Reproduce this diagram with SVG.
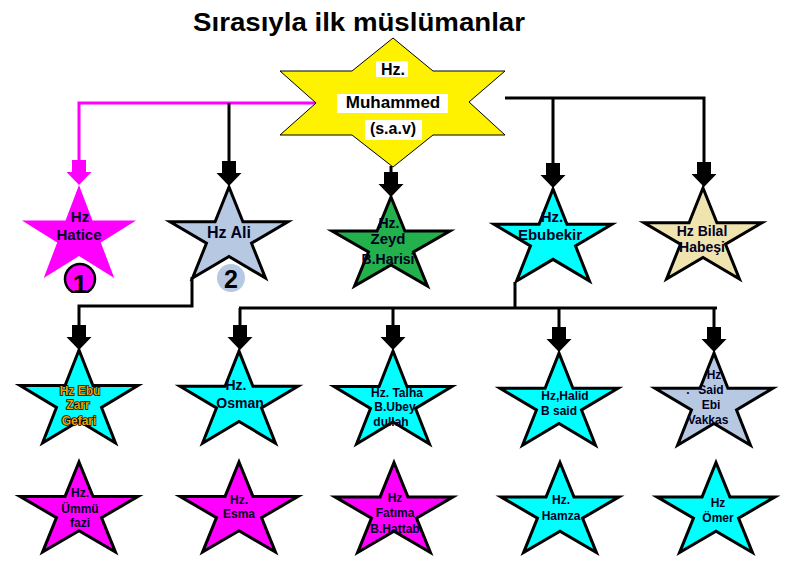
<svg xmlns="http://www.w3.org/2000/svg" xmlns:xlink="http://www.w3.org/1999/xlink" width="808" height="572" viewBox="0 0 808 572">
<style>
text{font-family:"Liberation Sans",Arial,sans-serif;font-weight:bold;text-anchor:middle;fill:#000022}
.s{stroke:#000;stroke-width:3;stroke-linejoin:miter}
.pk{fill:#FF00FF}
.cy{fill:#00FFFF}
.bl{fill:#B7C9E2}
.gr{fill:#22B14C}
.tn{fill:#EFE4B0}
.ln{fill:none;stroke:#000;stroke-width:3}
.lp{fill:none;stroke:#FF00FF;stroke-width:3}
.t12{font-size:12px}
.t14{font-size:14px}
.t15{font-size:15px}
.gold{fill:#F0A000;stroke:#000;stroke-width:1.5px;paint-order:stroke;font-size:12px}
</style>
<defs>
<polygon id="star" vector-effect="non-scaling-stroke" points="0,-1 0.2245,-0.309 0.9511,-0.309 0.3633,0.118 0.5878,0.809 0,0.382 -0.5878,0.809 -0.3633,0.118 -0.9511,-0.309 -0.2245,-0.309"/>
<path id="arr" d="M-7,-25H7V-13H12.5L0,0L-12.5,-13H-7Z"/>
<clipPath id="cut1"><rect x="50" y="250" width="60" height="43"/></clipPath>
</defs>
<rect width="808" height="572" fill="#fff"/>
<text x="359" y="31" style="font-size:25px;fill:#000" textLength="332" lengthAdjust="spacingAndGlyphs">Sırasıyla ilk müslümanlar</text>

<g id="connectors">
<path class="lp" d="M316,103H79V162"/>
<use href="#arr" transform="translate(79,185)" fill="#FF00FF"/>
<path class="ln" d="M229,103V163"/>
<use href="#arr" transform="translate(229,186)"/>
<path class="ln" d="M391,166V176"/>
<use href="#arr" transform="translate(391,197)"/>
<path class="ln" d="M505,98H704V166M553,98V166"/>
<use href="#arr" transform="translate(553,188)"/>
<use href="#arr" transform="translate(704,187)"/>
<path class="ln" d="M192,277V306H79V328"/>
<use href="#arr" transform="translate(79,350)"/>
<path class="ln" d="M515,282V308M239,308H717M240,308V328M393,308V328M559,308V330M714,308V330"/>
<use href="#arr" transform="translate(240,350)"/>
<use href="#arr" transform="translate(393,350)"/>
<use href="#arr" transform="translate(559,352)"/>
<use href="#arr" transform="translate(714,352)"/>
</g>

<g id="muhammed">
<polygon points="393,38 433,71 505,71 469,102 505,135 433,135 393,167 352,135 280,135 316,103 280,71 352,71" fill="#FFF200" stroke="#000" stroke-width="1"/>
<rect x="376" y="61" width="32" height="16" fill="#fff"/>
<rect x="337" y="94" width="111" height="19" fill="#fff"/>
<rect x="365" y="120" width="57" height="20" fill="#fff"/>
<text x="393" y="75" style="font-size:16px;fill:#000">Hz.</text>
<text x="393" y="108" style="font-size:17px;fill:#000">Muhammed</text>
<text x="393" y="134" style="font-size:16px;fill:#000">(s.a.v)</text>
</g>

<g id="hatice">
<use href="#star" class="pk" transform="translate(79,236.4) scale(60,51.4)"/>
<text class="t15" x="80" y="222">Hz</text>
<text class="t15" x="79" y="240">Hatice</text>
<g clip-path="url(#cut1)">
<circle cx="80" cy="279" r="15" fill="#FF00FF" stroke="#000" stroke-width="2.5"/>
<text x="80" y="293" style="font-size:26px;fill:#000">1</text>
</g>
</g>

<g id="ali">
<use href="#star" class="s bl" transform="translate(229,237.3) scale(62,50.3)"/>
<text x="229" y="238" style="font-size:16px">Hz Ali</text>
<circle cx="231" cy="278" r="14" fill="#B7C9E2"/>
<text x="231" y="288" style="font-size:25px;fill:#000">2</text>
</g>

<g id="zeyd">
<use href="#star" class="s gr" transform="translate(391,246.2) scale(62,49.2)"/>
<text class="t14" x="389" y="228">Hz.</text>
<text class="t15" x="388" y="244">Zeyd</text>
<text class="t14" x="388" y="264">B.Harisi</text>
</g>

<g id="ebubekir">
<use href="#star" class="s cy" transform="translate(553,239.9) scale(62,50.9)"/>
<text class="t15" x="552" y="222">Hz.</text>
<text class="t15" x="550" y="240">Ebubekir</text>
</g>

<g id="bilal">
<use href="#star" class="s tn" transform="translate(703,238.3) scale(62,50.3)"/>
<text class="t14" x="702" y="236">Hz Bilal</text>
<text class="t14" x="702" y="252">Habeşi</text>
</g>

<g id="ebuzarr">
<use href="#star" class="s cy" transform="translate(79,401.4) scale(62,51.4)"/>
<text class="gold" x="80" y="395">Hz Ebu</text>
<text class="gold" x="78" y="409">Zarr</text>
<text class="gold" x="79" y="425">Gefari</text>
</g>

<g id="osman">
<use href="#star" class="s cy" transform="translate(239,402) scale(62,50.9)"/>
<text class="t14" x="236" y="390">Hz.</text>
<text class="t14" x="240" y="408">Osman</text>
</g>

<g id="talha">
<use href="#star" class="s cy" transform="translate(393,402.4) scale(62,51.4)"/>
<text class="t12" x="397" y="397">Hz. Talha</text>
<text class="t12" x="395" y="411">B.Ubey</text>
<text class="t12" x="391" y="426">dullah</text>
</g>

<g id="halid">
<use href="#star" class="s cy" transform="translate(559,404) scale(62,50.9)"/>
<text class="t12" x="565" y="400">Hz,Halid</text>
<text class="t12" x="559" y="415">B said</text>
</g>

<g id="said">
<use href="#star" class="s bl" transform="translate(714,404) scale(62,50.9)"/>
<text class="t12" x="714" y="379">Hz</text>
<text class="t12" x="688" y="394">.</text>
<text class="t12" x="711" y="394">Said</text>
<text class="t12" x="711" y="409">Ebi</text>
<text class="t12" x="708" y="424">Vakkas</text>
</g>

<g id="ummu">
<use href="#star" class="s pk" transform="translate(79,511.8) scale(62,49.8)"/>
<text class="t12" x="80" y="497">Hz.</text>
<text class="t12" x="80" y="513">Ümmü</text>
<text class="t12" x="80" y="527">fazi</text>
</g>

<g id="esma">
<use href="#star" class="s pk" transform="translate(239,511.8) scale(62,49.8)"/>
<text class="t12" x="239" y="504">Hz.</text>
<text class="t12" x="239" y="518">Esma</text>
</g>

<g id="fatima">
<use href="#star" class="s pk" transform="translate(394,512.3) scale(62,49.8)"/>
<text class="t12" x="395" y="502">Hz</text>
<text class="t12" x="395" y="517">Fatıma</text>
<text class="t12" x="395" y="533">B.Hattab</text>
</g>

<g id="hamza">
<use href="#star" class="s cy" transform="translate(560,512.3) scale(62,49.8)"/>
<text class="t12" x="561" y="504">Hz.</text>
<text class="t12" x="561" y="520">Hamza</text>
</g>

<g id="omer">
<use href="#star" class="s cy" transform="translate(716,512.3) scale(62,49.8)"/>
<text class="t12" x="718" y="507">Hz</text>
<text class="t12" x="718" y="522">Ömer</text>
</g>
</svg>
